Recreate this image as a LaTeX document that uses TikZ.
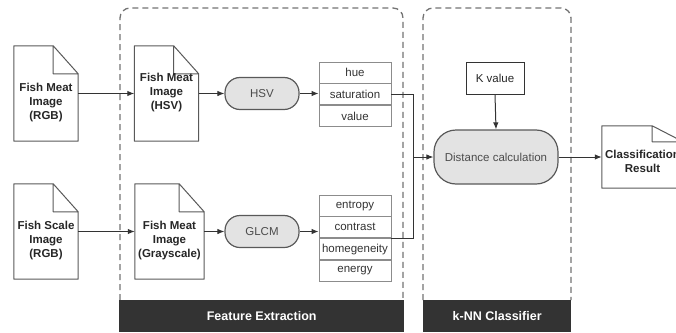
\documentclass[tikz,border=0pt]{standalone}
\usepackage{fontspec}
\setmainfont{Liberation Sans}
\usepackage{tikz}
\usetikzlibrary{positioning,arrows.meta}
\tikzset{
  fxdoc/.style={draw=none, minimum width=64pt, minimum height=95pt, inner sep=0pt},
  fxdocline/.style={draw=black!65, line width=1pt, fill=white, line join=round},
  fxlabel/.style={font=\fontsize{11.5}{14}\selectfont\bfseries, text=black!85, align=center, inner sep=0pt},
  fxpill/.style={draw=black!65, line width=1.2pt, fill=black!11, rounded corners=15pt, minimum width=74pt, minimum height=32pt, text=black!70},
  fxbox/.style={draw=black!80, line width=1pt, minimum width=58pt, minimum height=32pt, text=black!85},
  fxcell/.style={draw=black!45, line width=0.8pt, minimum width=72pt, minimum height=21pt, inner sep=0pt, text=black!80},
  fxpanel/.style={draw=black!55, line width=1.3pt, dash pattern=on 6pt off 4pt, rounded corners=10pt},
  fxbar/.style={fill=black!80, draw=none, minimum height=32pt, anchor=north west, inner sep=0pt, font=\fontsize{12.5}{15}\selectfont\bfseries, text=white},
  fxarrow/.style={draw=black!80, line width=1pt, -{Latex[length=7pt,width=5.5pt]}},
  fxline/.style={draw=black!80, line width=1pt},
}

\begin{document}
\begin{tikzpicture}[x=1pt, y=-1pt, font=\fontsize{11.5}{14}\selectfont]
\useasboundingbox (0,0) rectangle (676,332);
\clip (0,0) rectangle (676,332);

% panels
\draw[fxpanel] (120,300) -- (120,8) -- (403,8) -- (403,300);
\draw[fxpanel] (423,300) -- (423,8) -- (571,8) -- (571,300);
\node[fxbar, minimum width=285pt] (fxbarfeat) at (119,300) {Feature Extraction};
\node[fxbar, minimum width=148pt] (fxbarknn) at (423,300) {k-NN Classifier};

% documents
\node[fxdoc] (meatrgb) at (46,93.5) {};
\node[fxdoc] (meathsv) at (166.5,93.5) {};
\node[fxdoc] (scalergb) at (46,231.5) {};
\node[fxdoc, minimum width=69pt] (meatgray) at (169.5,231.5) {};
\node[fxdoc, minimum width=81pt, minimum height=62pt] (result) at (642.5,157) {};
\foreach \d/\fx/\fy in {meatrgb/25/28, meathsv/25/28, scalergb/25/28, meatgray/25/28, result/31/16}
  \draw[fxdocline] (\d.south west) -- (\d.north west) -- ([xshift=-\fx pt]\d.north east)
    -- ([yshift=-\fy pt]\d.north east) -- (\d.south east) -- cycle
    ([xshift=-\fx pt]\d.north east) |- ([yshift=-\fy pt]\d.north east);
\node[fxlabel] (meatrgbtxt) at (46,103) {Fish Meat\\Image\\(RGB)};
\node[fxlabel] (meathsvtxt) at (166.5,93) {Fish Meat\\Image\\(HSV)};
\node[fxlabel] (scalergbtxt) at (46,241) {Fish Scale\\Image\\(RGB)};
\node[fxlabel] (meatgraytxt) at (169.5,241) {Fish Meat\\Image\\(Grayscale)};
\node[fxlabel, align=center] (resulttxt) at (642.5,161) {Classification\\Result};

% processing
\node[fxpill] (hsv) at (262,93.5) {HSV};
\node[fxpill] (glcm) at (262,231.5) {GLCM};
\node[fxpill, minimum width=124pt, minimum height=54pt, rounded corners=22pt] (dist) at (496,157) {Distance calculation};
\node[fxbox] (kval) at (495,78) {K value};

% feature tables
\node[fxcell] (hue) at (355,72.5) {hue};
\node[fxcell, below=0pt of hue] (sat) {saturation};
\node[fxcell, below=0pt of sat] (val) {value};
\node[fxcell] (ent) at (355,205.5) {entropy};
\node[fxcell, below=0pt of ent] (con) {contrast};
\node[fxcell, below=0pt of con] (hom) {homegeneity};
\node[fxcell, below=0pt of hom] (ene) {energy};

% connectors
\coordinate (join) at (413,157);
\draw[fxarrow] (meatrgb.east) -- (meathsv.west);
\draw[fxarrow] (scalergb.east) -- (meatgray.west);
\draw[fxarrow] (meathsv.east) -- (hsv.west);
\draw[fxarrow] (meatgray.east) -- (glcm.west);
\draw[fxarrow] (hsv.east) -- (hsv.east -| sat.west);
\draw[fxarrow] (glcm.east) -- (glcm.east -| con.west);
\draw[fxarrow] (sat.east) -| (join) -- (dist.west);
\draw[fxline] (con.south east) -| (join);
\draw[fxarrow] (kval.south) -- (dist.north);
\draw[fxarrow] (dist.east) -- (result.west);
\end{tikzpicture}
\end{document}
